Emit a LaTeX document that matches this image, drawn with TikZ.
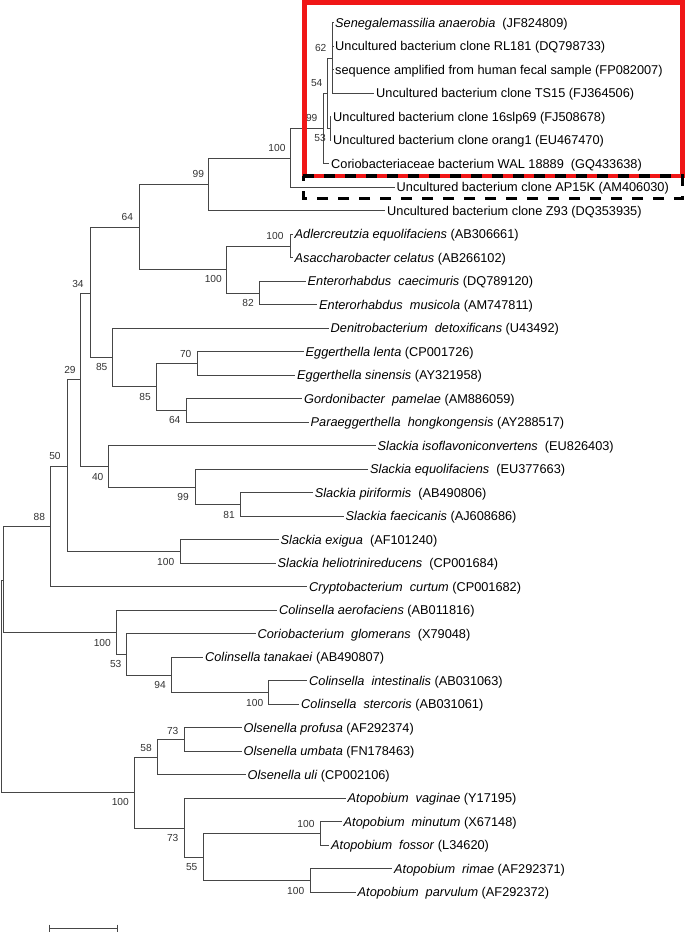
\documentclass[tikz,border=0pt]{standalone}
\usepackage{fontspec}
\setmainfont{Liberation Sans}
\definecolor{boxred}{RGB}{240, 22, 22}
\definecolor{treegray}{RGB}{70, 70, 70}

\begin{document}
\begin{tikzpicture}[x=1pt, y=-1pt,
    leaf/.style={anchor=west, inner xsep=2pt, inner ysep=0pt, text height=9.2pt, text depth=0pt,
                 font=\fontsize{12.75}{14}\selectfont},
    boot/.style={inner sep=0pt, text=black!80, font=\fontsize{10.2}{12}\selectfont},
    branch/.style={treegray, line width=0.8pt}]
\useasboundingbox (0,0) rectangle (685,933);

% leaves
\node[leaf] (sen)    at (333,22.8)   {\textit{Senegalemassilia anaerobia}\ \ (JF824809)};
\node[leaf] (rl181)  at (333,46.3)   {Uncultured bacterium clone RL181 (DQ798733)};
\node[leaf] (fecal)  at (333,69.8)   {sequence amplified from human fecal sample (FP082007)};
\node[leaf] (ts15)   at (374,93.3)   {Uncultured bacterium clone TS15 (FJ364506)};
\node[leaf] (slp69)  at (331,116.8)  {Uncultured bacterium clone 16slp69 (FJ508678)};
\node[leaf] (orang)  at (331,140.3)  {Uncultured bacterium clone orang1 (EU467470)};
\node[leaf] (wal)    at (329,163.8)  {Coriobacteriaceae bacterium WAL 18889\ \ (GQ433638)};
\node[leaf] (ap15k)  at (394.5,187.3) {Uncultured bacterium clone AP15K (AM406030)};
\node[leaf] (z93)    at (385,210.8)  {Uncultured bacterium clone Z93 (DQ353935)};
\node[leaf] (adl)    at (292.5,234.3) {\textit{Adlercreutzia equolifaciens} (AB306661)};
\node[leaf] (asa)    at (292.5,257.8) {\textit{Asaccharobacter celatus} (AB266102)};
\node[leaf] (entc)   at (305.5,281.3) {\textit{Enterorhabdus\ \ caecimuris} (DQ789120)};
\node[leaf] (entm)   at (317,304.8)  {\textit{Enterorhabdus\ \ musicola} (AM747811)};
\node[leaf] (den)    at (328.5,328.3) {\textit{Denitrobacterium\ \ detoxificans} (U43492)};
\node[leaf] (eggl)   at (303.5,351.8) {\textit{Eggerthella lenta} (CP001726)};
\node[leaf] (eggs)   at (295,375.3)  {\textit{Eggerthella sinensis} (AY321958)};
\node[leaf] (gor)    at (302,398.8)  {\textit{Gordonibacter\ \ pamelae} (AM886059)};
\node[leaf] (par)    at (308.5,422.3) {\textit{Paraeggerthella\ \ hongkongensis} (AY288517)};
\node[leaf] (sliso)  at (375.5,445.8) {\textit{Slackia isoflavoniconvertens}\ \ (EU826403)};
\node[leaf] (sleq)   at (368,469.3)  {\textit{Slackia equolifaciens}\ \ (EU377663)};
\node[leaf] (slpir)  at (312.7,492.8) {\textit{Slackia piriformis}\ \ (AB490806)};
\node[leaf] (slfae)  at (343.5,516.3) {\textit{Slackia faecicanis} (AJ608686)};
\node[leaf] (slex)   at (278.5,539.8) {\textit{Slackia exigua}\ \ (AF101240)};
\node[leaf] (slhel)  at (275.5,563.3) {\textit{Slackia heliotrinireducens}\ \ (CP001684)};
\node[leaf] (cry)    at (307,586.8)  {\textit{Cryptobacterium\ \ curtum} (CP001682)};
\node[leaf] (colaer) at (277,610.3)  {\textit{Colinsella aerofaciens} (AB011816)};
\node[leaf] (cor)    at (255.5,633.8) {\textit{Coriobacterium\ \ glomerans}\ \ (X79048)};
\node[leaf] (coltan) at (203,657.3)  {\textit{Colinsella tanakaei} (AB490807)};
\node[leaf] (colint) at (307,680.8)  {\textit{Colinsella\ \ intestinalis} (AB031063)};
\node[leaf] (colste) at (299,704.3)  {\textit{Colinsella\ \ stercoris} (AB031061)};
\node[leaf] (olpro)  at (241.5,727.8) {\textit{Olsenella profusa} (AF292374)};
\node[leaf] (olumb)  at (241.5,751.3) {\textit{Olsenella umbata} (FN178463)};
\node[leaf] (oluli)  at (245.5,774.8) {\textit{Olsenella uli} (CP002106)};
\node[leaf] (atvag)  at (345.5,798.3) {\textit{Atopobium\ \ vaginae} (Y17195)};
\node[leaf] (atmin)  at (341.5,821.8) {\textit{Atopobium\ \ minutum} (X67148)};
\node[leaf] (atfos)  at (329,845.3)  {\textit{Atopobium\ \ fossor} (L34620)};
\node[leaf] (atrim)  at (392,868.8)  {\textit{Atopobium\ \ rimae} (AF292371)};
\node[leaf] (atpar)  at (355.5,892.3) {\textit{Atopobium\ \ parvulum} (AF292372)};

% inner nodes
\coordinate (n62)   at (332.7,58);
\coordinate (n53)   at (330,128.5);
\coordinate (n54)   at (327.7,93.5);
\coordinate (n99a)  at (323.3,128.8);
\coordinate (n100a) at (290.7,158.3);
\coordinate (n99b)  at (208.7,184.3);
\coordinate (n100d) at (290,246);
\coordinate (n82)   at (259.3,293);
\coordinate (n100c) at (226.7,269.7);
\coordinate (n64)   at (139,227.5);
\coordinate (n70)   at (197.3,363.6);
\coordinate (n64b)  at (186.7,410.6);
\coordinate (n85b)  at (156.7,386.8);
\coordinate (n85a)  at (112.7,357);
\coordinate (n34)   at (90,293.5);
\coordinate (n81)   at (240,504.5);
\coordinate (n99c)  at (195,487);
\coordinate (n40)   at (108.3,466.5);
\coordinate (n29)   at (80.3,379.3);
\coordinate (n100e) at (180,551.6);
\coordinate (n50)   at (67.7,466.5);
\coordinate (n88)   at (50.7,526.5);
\coordinate (n100g) at (268.3,692.6);
\coordinate (n94)   at (171,675);
\coordinate (n53b)  at (126,654.3);
\coordinate (n100f) at (116,632.7);
\coordinate (nq)    at (3.3,580.5);
\coordinate (n73a)  at (184.3,739.6);
\coordinate (n58)   at (157.3,757.2);
\coordinate (n100i) at (320,833.6);
\coordinate (n100j) at (310,880.6);
\coordinate (n55)   at (203.3,857.3);
\coordinate (n73b)  at (184.3,828.5);
\coordinate (n100h) at (134.3,792.8);
\coordinate (root)  at (1,686);

% branches
\draw[branch] (n62) |- (sen.west) (n62) |- (rl181.west) (n62) |- (fecal.west) (n62) |- (ts15.west);
\draw[branch] (n53) |- (slp69.west) (n53) |- (orang.west);
\draw[branch] (n54) |- (n62) (n54) |- (n53);
\draw[branch] (n99a) |- (n54) (n99a) |- (wal.west);
\draw[branch] (n100a) |- (n99a) (n100a) |- (ap15k.west);
\draw[branch] (n99b) |- (n100a) (n99b) |- (z93.west);
\draw[branch] (n100d) |- (adl.west) (n100d) |- (asa.west);
\draw[branch] (n82) |- (entc.west) (n82) |- (entm.west);
\draw[branch] (n100c) |- (n100d) (n100c) |- (n82);
\draw[branch] (n64) |- (n99b) (n64) |- (n100c);
\draw[branch] (n70) |- (eggl.west) (n70) |- (eggs.west);
\draw[branch] (n64b) |- (gor.west) (n64b) |- (par.west);
\draw[branch] (n85b) |- (n70) (n85b) |- (n64b);
\draw[branch] (n85a) |- (den.west) (n85a) |- (n85b);
\draw[branch] (n34) |- (n64) (n34) |- (n85a);
\draw[branch] (n81) |- (slpir.west) (n81) |- (slfae.west);
\draw[branch] (n99c) |- (sleq.west) (n99c) |- (n81);
\draw[branch] (n40) |- (sliso.west) (n40) |- (n99c);
\draw[branch] (n29) |- (n34) (n29) |- (n40);
\draw[branch] (n100e) |- (slex.west) (n100e) |- (slhel.west);
\draw[branch] (n50) |- (n29) (n50) |- (n100e);
\draw[branch] (n88) |- (n50) (n88) |- (cry.west);
\draw[branch] (n100g) |- (colint.west) (n100g) |- (colste.west);
\draw[branch] (n94) |- (coltan.west) (n94) |- (n100g);
\draw[branch] (n53b) |- (cor.west) (n53b) |- (n94);
\draw[branch] (n100f) |- (colaer.west) (n100f) |- (n53b);
\draw[branch] (nq) |- (n88) (nq) |- (n100f);
\draw[branch] (n73a) |- (olpro.west) (n73a) |- (olumb.west);
\draw[branch] (n58) |- (n73a) (n58) |- (oluli.west);
\draw[branch] (n100i) |- (atmin.west) (n100i) |- (atfos.west);
\draw[branch] (n100j) |- (atrim.west) (n100j) |- (atpar.west);
\draw[branch] (n55) |- (n100i) (n55) |- (n100j);
\draw[branch] (n73b) |- (atvag.west) (n73b) |- (n55);
\draw[branch] (n100h) |- (n58) (n100h) |- (n73b);
\draw[branch] (root) |- (nq) (root) |- (n100h);

% bootstrap values
\node[boot] (b62)   at (320.7,48.3)  {62};
\node[boot] (b54)   at (316.7,83.3)  {54};
\node[boot] (b99a)  at (311.7,118.3) {99};
\node[boot] (b53)   at (320,138)     {53};
\node[boot] (b100a) at (277,148.3)   {100};
\node[boot] (b99b)  at (198.3,174)   {99};
\node[boot] (b64)   at (127.3,217.3) {64};
\node[boot] (b100d) at (275,236)     {100};
\node[boot] (b100c) at (213.3,279.3) {100};
\node[boot] (b82)   at (248,303)     {82};
\node[boot] (b34)   at (78,284)      {34};
\node[boot] (b85a)  at (101.7,366.7) {85};
\node[boot] (b70)   at (185.7,354)   {70};
\node[boot] (b85b)  at (145,397)     {85};
\node[boot] (b64b)  at (174.7,420.3) {64};
\node[boot] (b29)   at (70,370)      {29};
\node[boot] (b40)   at (97.7,477)    {40};
\node[boot] (b99c)  at (183,497)     {99};
\node[boot] (b81)   at (229,515)     {81};
\node[boot] (b50)   at (55,456)      {50};
\node[boot] (b100e) at (165.7,561.7) {100};
\node[boot] (b88)   at (39.3,516.7)  {88};
\node[boot] (b100f) at (102.3,642.7) {100};
\node[boot] (b53b)  at (115.7,664)   {53};
\node[boot] (b94)   at (160,685.3)   {94};
\node[boot] (b100g) at (254.7,702.7) {100};
\node[boot] (b73a)  at (172.7,730.7) {73};
\node[boot] (b58)   at (146,748.3)   {58};
\node[boot] (b100h) at (120.3,802.3) {100};
\node[boot] (b73b)  at (172.7,838.3) {73};
\node[boot] (b55)   at (191.7,866.7) {55};
\node[boot] (b100i) at (306,824)     {100};
\node[boot] (b100j) at (295.7,890.7) {100};

% scale bar
\coordinate (sbl) at (49.3,928.7);
\coordinate (sbr) at (117.3,928.7);
\draw[branch] (sbl) -- (sbr);
\draw[branch] (sbl) ++(0,-4) -- ++(0,7.5);
\draw[branch] (sbr) ++(0,-4) -- ++(0,7.5);

% highlight boxes
\draw[boxred, line width=4.5pt] (304.3,2.3) rectangle (682.5,176);
\draw[black, line width=3.5pt, dash pattern=on 11pt off 10pt] (303.3,176) -- (682.5,176) -- (682.5,198.3) -- (303.3,198.3) -- cycle;
\end{tikzpicture}
\end{document}
